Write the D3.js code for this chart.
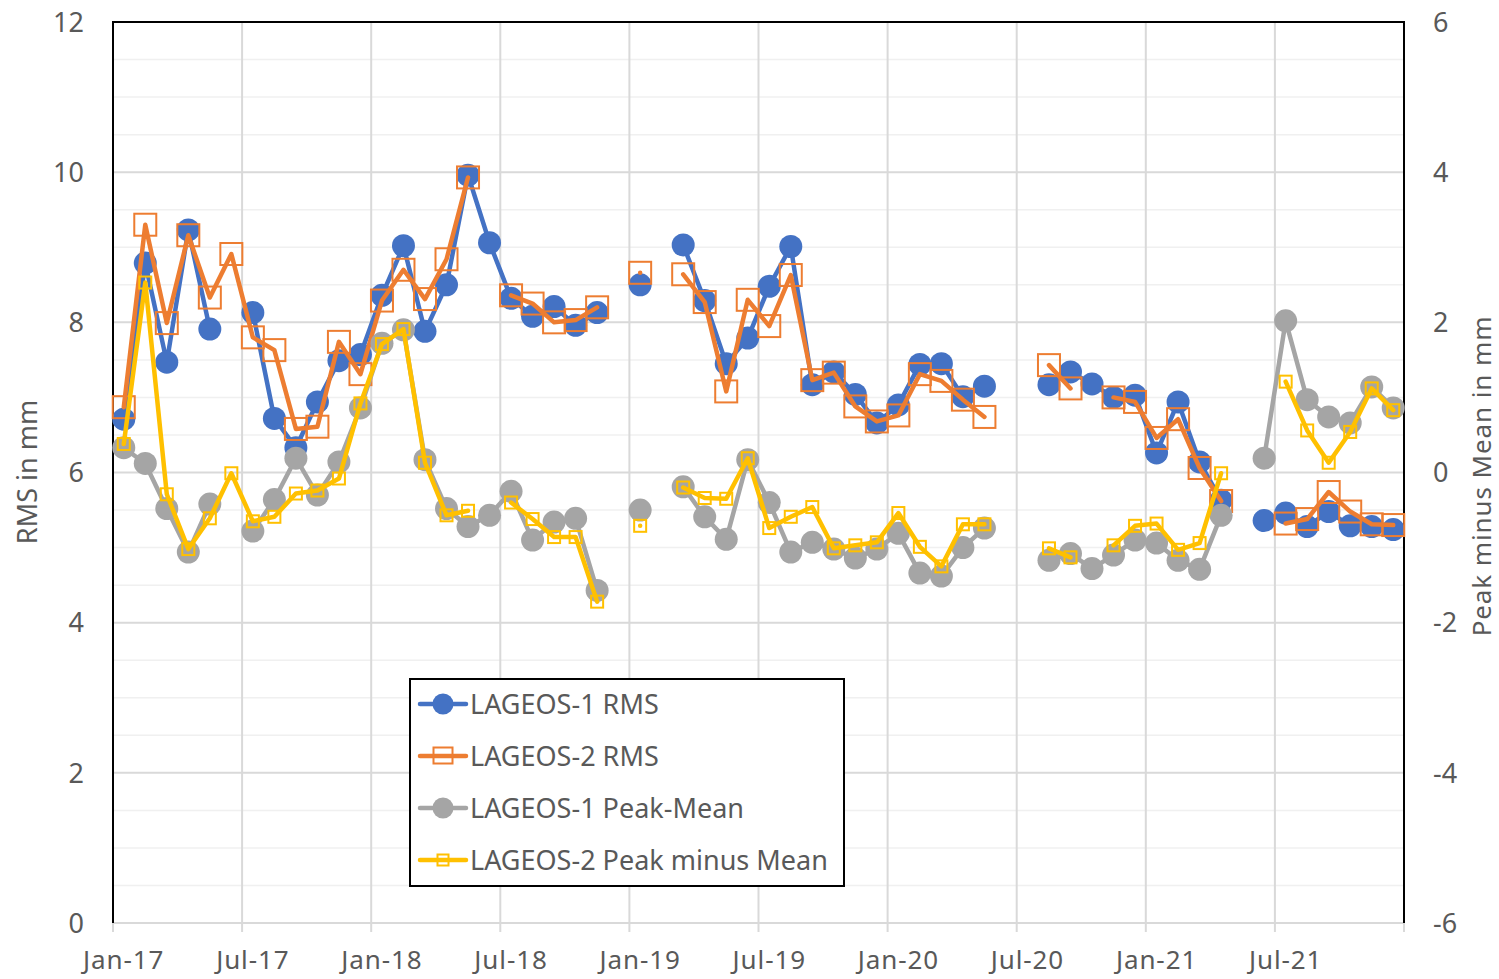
<!DOCTYPE html>
<html>
<head>
<meta charset="utf-8">
<script src="https://cdn.jsdelivr.net/npm/d3@7"></script>
<style>
  body { margin: 0; background: #fff; }
  text { font-family: "Noto Sans", "Open Sans", sans-serif; fill: #595959; }
</style>
</head>
<body>
<div id="chart"></div>
<script>
// monthly values, Jan-17 .. Dec-21 (null = no value that month)
var l1Rms = [6.71, 8.79, 7.47, 9.23, 7.91, null, 8.13, 6.72, 6.33, 6.94, 7.49, 7.57,
  8.36, 9.02, 7.88, 8.50, 9.96, 9.06, 8.32, 8.08, 8.21, 7.96, 8.13, null,
  8.50, null, 9.03, 8.29, 7.45, 7.79, 8.48, 9.01, 7.17, 7.34, 7.04, 6.66,
  6.90, 7.44, 7.45, 7.01, 7.15, null, null, 7.17, 7.34, 7.18, 7.00, 7.03,
  6.26, 6.94, 6.14, 5.63, null, 5.36, 5.46, 5.28, 5.48, 5.29, 5.28, 5.24];

var l2Rms = [6.87, 9.30, 7.99, 9.16, 8.33, 8.91, 7.80, 7.63, 6.58, 6.61, 7.74, 7.31,
  8.29, 8.70, 8.31, 8.84, 9.93, null, 8.36, 8.25, 8.00, 8.03, 8.20, null,
  8.66, null, 8.64, 8.27, 7.08, 8.30, 7.95, 8.63, 7.23, 7.33, 6.88, 6.68,
  6.76, 7.31, 7.22, 6.97, 6.74, null, null, 7.43, 7.12, null, 7.00, 6.94,
  6.46, 6.71, 6.06, 5.62, null, null, 5.32, 5.38, 5.74, 5.48, 5.31, 5.30];

// peak minus mean, right axis
var l1Peak = [0.33, 0.12, -0.48, -1.06, -0.42, null, -0.78, -0.36, 0.19, -0.30, 0.14, 0.86,
  1.72, 1.90, 0.17, -0.48, -0.72, -0.57, -0.25, -0.90, -0.66, -0.61, -1.57, null,
  -0.50, null, -0.19, -0.59, -0.89, 0.17, -0.40, -1.06, -0.93, -1.02, -1.14, -1.02,
  -0.81, -1.34, -1.38, -1.00, -0.74, null, null, -1.17, -1.08, -1.28, -1.10, -0.90,
  -0.94, -1.17, -1.29, -0.57, null, 0.19, 2.02, 0.97, 0.74, 0.66, 1.14, 0.86];

var l2Peak = [0.38, 2.53, -0.29, -1.02, -0.61, -0.01, -0.65, -0.59, -0.28, -0.24, -0.08, 0.92,
  1.71, 1.91, 0.13, -0.57, -0.51, null, -0.40, -0.62, -0.86, -0.86, -1.72, null,
  -0.71, null, -0.20, -0.34, -0.35, 0.19, -0.74, -0.59, -0.46, -1.01, -0.97, -0.93,
  -0.54, -0.99, -1.25, -0.69, -0.69, null, null, -1.01, -1.13, null, -0.97, -0.71,
  -0.68, -1.03, -0.94, -0.01, null, null, 1.21, 0.56, 0.13, 0.54, 1.12, 0.83];

var leftTicks = [0, 2, 4, 6, 8, 10, 12];
var rightTicks = [-6, -4, -2, 0, 2, 4, 6];
var seriesNames = ["LAGEOS-1 RMS", "LAGEOS-2 RMS", "LAGEOS-1 Peak-Mean", "LAGEOS-2 Peak minus Mean"];
var colors = ["#4472C4", "#ED7D31", "#A5A5A5", "#FFC000"];

var months = d3.timeMonth.range(new Date(2017, 0, 1), new Date(2022, 0, 1));

var width = 1499, height = 979;
var plotL = 113, plotR = 1404, plotT = 22, plotB = 923;

var svg = d3.select("#chart").append("svg")
  .attr("width", width)
  .attr("height", height);

// Excel date axis: every month gets the same width
var x = d3.scaleBand()
  .domain(months)
  .range([plotL, plotR])
  .padding(0);
var y = d3.scaleLinear().domain([0, 12]).range([plotB, plotT]);
var y2 = d3.scaleLinear().domain([-6, 6]).range([plotB, plotT]);

function mid(d) { return x(d) + x.bandwidth() / 2; }

var tickMonths = months.filter(function(d, i) { return i % 6 === 0; });
var tickX = tickMonths.map(function(d) { return x(d); }).concat([plotR]);

// grid
var grid = svg.append("g");
grid.selectAll(".minor")
  .data(d3.range(0.5, 12, 0.5).filter(function(v) { return v % 2 !== 0; }))
  .enter().append("line")
  .attr("x1", plotL).attr("x2", plotR)
  .attr("y1", function(d) { return y(d); }).attr("y2", function(d) { return y(d); })
  .attr("stroke", "#f0f0f0").attr("stroke-width", 1.5);
grid.selectAll(".major")
  .data(leftTicks.slice(1, -1))
  .enter().append("line")
  .attr("x1", plotL).attr("x2", plotR)
  .attr("y1", function(d) { return y(d); }).attr("y2", function(d) { return y(d); })
  .attr("stroke", "#d9d9d9").attr("stroke-width", 2);
grid.selectAll(".vert")
  .data(tickX.slice(1, -1))
  .enter().append("line")
  .attr("x1", function(d) { return d; }).attr("x2", function(d) { return d; })
  .attr("y1", plotT).attr("y2", plotB)
  .attr("stroke", "#d9d9d9").attr("stroke-width", 2);

// bottom axis
svg.append("line")
  .attr("x1", plotL).attr("x2", plotR).attr("y1", plotB).attr("y2", plotB)
  .attr("stroke", "#d9d9d9").attr("stroke-width", 2);
svg.selectAll(".xtick")
  .data(tickX)
  .enter().append("line")
  .attr("x1", function(d) { return d; }).attr("x2", function(d) { return d; })
  .attr("y1", plotB).attr("y2", plotB + 9)
  .attr("stroke", "#d9d9d9").attr("stroke-width", 2);
svg.selectAll(".xlabel")
  .data(tickMonths)
  .enter().append("text")
  .attr("x", function(d) { return mid(d); })
  .attr("y", 969)
  .attr("text-anchor", "middle")
  .attr("font-size", 26)
  .attr("letter-spacing", 0.9)
  .text(d3.timeFormat("%b-%y"));

// frame (left, top, right in black)
svg.append("path")
  .attr("d", "M" + plotL + "," + plotB + "V" + plotT + "H" + plotR + "V" + plotB)
  .attr("fill", "none").attr("stroke", "#000").attr("stroke-width", 2);

svg.selectAll(".ylabel")
  .data(leftTicks)
  .enter().append("text")
  .attr("x", 84)
  .attr("y", function(d) { return y(d); })
  .attr("dy", "0.36em")
  .attr("text-anchor", "end")
  .attr("font-size", 27)
  .text(function(d) { return d; });

svg.selectAll(".y2label")
  .data(rightTicks)
  .enter().append("text")
  .attr("x", 1433)
  .attr("y", function(d) { return y2(d); })
  .attr("dy", "0.36em")
  .attr("font-size", 27)
  .text(function(d) { return d; });

svg.append("text")
  .attr("transform", "translate(37,472) rotate(-90)")
  .attr("text-anchor", "middle")
  .attr("font-size", 27)
  .text("RMS in mm");
svg.append("text")
  .attr("transform", "translate(1491,476) rotate(-90)")
  .attr("text-anchor", "middle")
  .attr("font-size", 26)
  .attr("letter-spacing", 0.9)
  .text("Peak minus Mean in mm");

// series
function drawSeries(values, scale, color, marker) {
  var pts = months.map(function(m, i) { return { date: m, v: values[i] }; });
  var line = d3.line()
    .defined(function(d) { return d.v !== null; })
    .x(function(d) { return mid(d.date); })
    .y(function(d) { return scale(d.v); });
  var g = svg.append("g");
  g.append("path")
    .datum(pts)
    .attr("d", line)
    .attr("fill", "none")
    .attr("stroke", color)
    .attr("stroke-width", 4.5)
    .attr("stroke-linejoin", "round")
    .attr("stroke-linecap", "round");
  var valid = pts.filter(function(d) { return d.v !== null; });
  if (marker.type === "circle") {
    g.selectAll("circle").data(valid).enter().append("circle")
      .attr("cx", function(d) { return mid(d.date); })
      .attr("cy", function(d) { return scale(d.v); })
      .attr("r", marker.size / 2)
      .attr("fill", color);
  } else {
    g.selectAll("rect").data(valid).enter().append("rect")
      .attr("x", function(d) { return mid(d.date) - marker.size / 2; })
      .attr("y", function(d) { return scale(d.v) - marker.size / 2; })
      .attr("width", marker.size).attr("height", marker.size)
      .attr("fill", "none")
      .attr("stroke", color)
      .attr("stroke-width", 2);
  }
}

var markers = [
  { type: "circle", size: 23 },
  { type: "square", size: 22 },
  { type: "circle", size: 23 },
  { type: "square", size: 12 }
];

drawSeries(l1Rms, y, colors[0], markers[0]);
drawSeries(l2Rms, y, colors[1], markers[1]);
drawSeries(l1Peak, y2, colors[2], markers[2]);
drawSeries(l2Peak, y2, colors[3], markers[3]);

// legend
var legend = svg.append("g");
legend.append("rect")
  .attr("x", 410).attr("y", 679).attr("width", 434).attr("height", 207)
  .attr("fill", "#fff").attr("stroke", "#000").attr("stroke-width", 2);
var rowY = [704, 756, 808, 860];
seriesNames.forEach(function(name, i) {
  var ry = rowY[i];
  legend.append("line")
    .attr("x1", 420).attr("x2", 466).attr("y1", ry).attr("y2", ry)
    .attr("stroke", colors[i]).attr("stroke-width", 4.5).attr("stroke-linecap", "round");
  if (markers[i].type === "circle") {
    legend.append("circle").attr("cx", 443).attr("cy", ry).attr("r", 10.5).attr("fill", colors[i]);
  } else {
    var s = i === 1 ? 19 : 11;
    legend.append("rect")
      .attr("x", 443 - s / 2).attr("y", ry - s / 2 + (i === 1 ? 1 : 0))
      .attr("width", s).attr("height", i === 1 ? s - 3 : s)
      .attr("fill", "none").attr("stroke", colors[i]).attr("stroke-width", 2);
  }
  legend.append("text")
    .attr("x", 470).attr("y", ry)
    .attr("dy", "0.36em")
    .attr("font-size", 27)
    .text(name);
});
</script>
</body>
</html>
